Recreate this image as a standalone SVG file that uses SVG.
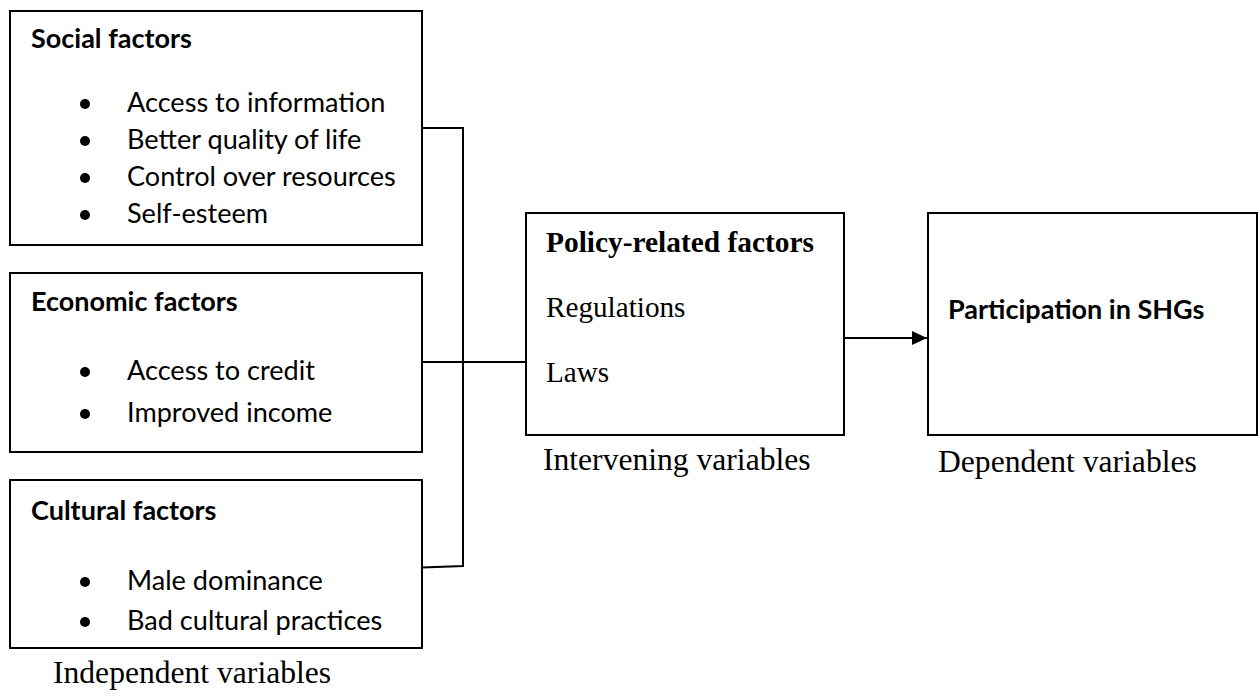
<svg xmlns="http://www.w3.org/2000/svg" width="1259" height="700" viewBox="0 0 1259 700">
<defs>
<style>
.box{fill:#fff;stroke:#000;stroke-width:2}
.con{fill:none;stroke:#000;stroke-width:2}
.sans{font-family:Lato,"Liberation Sans",sans-serif;font-size:27.1px;fill:#000}
.sansb{font-family:Lato,"Liberation Sans",sans-serif;font-size:27px;font-weight:bold;fill:#000}
.ser{font-family:"Liberation Serif","Times New Roman",serif;font-size:29.2px;fill:#000}
.serb{font-family:"Liberation Serif","Times New Roman",serif;font-size:29.4px;font-weight:bold;fill:#000}
.lab{font-family:"Liberation Serif","Times New Roman",serif;font-size:31.6px;fill:#000}
</style>
<marker id="arr" markerWidth="16" markerHeight="14" refX="15" refY="7" orient="auto" markerUnits="userSpaceOnUse">
<path d="M0,0 L15,7 L0,14 Z" fill="#000"/>
</marker>
</defs>
<g id="connectors">
<polyline class="con" points="422,128 463,128 463,566 422,567.5"/>
<line class="con" x1="422" y1="362" x2="526" y2="362"/>
<line class="con" x1="844" y1="338" x2="927" y2="338" marker-end="url(#arr)"/>
</g>
<g id="social">
<rect class="box" x="10" y="11" width="412" height="234"/>
<text class="sansb" x="31" y="48">Social factors</text>
<circle cx="85" cy="104" r="5"/><text class="sans" x="127" y="112">Access to information</text>
<circle cx="85" cy="141" r="5"/><text class="sans" x="127" y="149">Better quality of life</text>
<circle cx="85" cy="178" r="5"/><text class="sans" x="127" y="186">Control over resources</text>
<circle cx="85" cy="215" r="5"/><text class="sans" x="127" y="223">Self-esteem</text>
</g>
<g id="economic">
<rect class="box" x="10" y="273" width="412" height="179"/>
<text class="sansb" x="31" y="311">Economic factors</text>
<circle cx="85" cy="372" r="5"/><text class="sans" x="127" y="380">Access to credit</text>
<circle cx="85" cy="414" r="5"/><text class="sans" x="127" y="422">Improved income</text>
</g>
<g id="cultural">
<rect class="box" x="10" y="480" width="412" height="168"/>
<text class="sansb" x="31" y="520">Cultural factors</text>
<circle cx="85" cy="582" r="5"/><text class="sans" x="127" y="590">Male dominance</text>
<circle cx="85" cy="622" r="5"/><text class="sans" x="127" y="630">Bad cultural practices</text>
</g>
<g id="independent-label">
<text class="lab" x="53" y="683">Independent variables</text>
</g>
<g id="policy">
<rect class="box" x="526" y="213" width="318" height="222"/>
<text class="serb" x="546" y="252">Policy-related factors</text>
<text class="ser" x="546" y="317">Regulations</text>
<text class="ser" x="546" y="382">Laws</text>
</g>
<g id="intervening-label">
<text class="lab" x="543" y="470">Intervening variables</text>
</g>
<g id="participation">
<rect class="box" x="928" y="213" width="329" height="222"/>
<text class="sansb" x="948" y="319">Participation in SHGs</text>
</g>
<g id="dependent-label">
<text class="lab" x="938" y="472">Dependent variables</text>
</g>
</svg>
